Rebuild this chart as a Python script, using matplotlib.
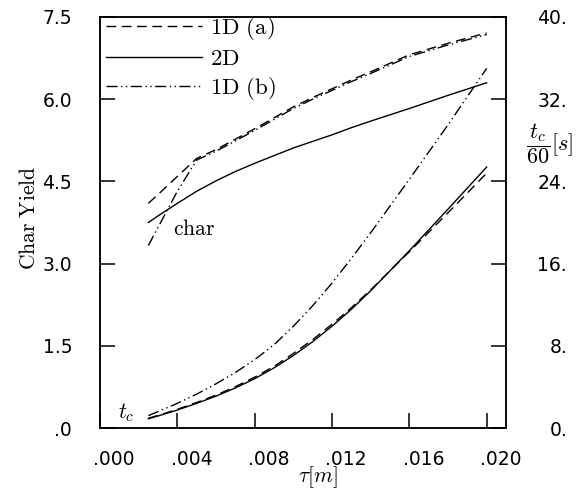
import matplotlib
matplotlib.use('Agg')
import matplotlib.pyplot as plt
import matplotlib.transforms as mtransforms

# tau [m] grid
tau = [0.0025, 0.003, 0.004, 0.005, 0.006, 0.007, 0.008, 0.009, 0.010,
       0.011, 0.012, 0.013, 0.014, 0.016, 0.018, 0.020]

# char yield (left axis)
char_1da = [4.10, 4.26, 4.59, 4.92, 5.08, 5.27, 5.46, 5.66, 5.86, 6.03, 6.19, 6.35, 6.50, 6.81, 7.02, 7.21]
char_2d = [3.75, 3.87, 4.10, 4.32, 4.51, 4.68, 4.83, 4.97, 5.11, 5.23, 5.35, 5.48, 5.60, 5.83, 6.07, 6.30]
char_1db = [3.33, 3.66, 4.32, 4.89, 5.05, 5.24, 5.43, 5.63, 5.83, 6.00, 6.16, 6.32, 6.47, 6.78, 6.99, 7.18]

# t_c / 60 [s] (right axis)
tc_1da = [0.95, 1.22, 1.82, 2.48, 3.2, 4.02, 4.95, 6.0, 7.25, 8.6, 10.1, 11.7, 13.45, 17.15, 20.95, 24.8]
tc_2d = [0.9, 1.17, 1.75, 2.4, 3.1, 3.9, 4.8, 5.85, 7.05, 8.4, 9.9, 11.55, 13.35, 17.25, 21.3, 25.4]
tc_1db = [1.2, 1.6, 2.4, 3.3, 4.3, 5.4, 6.65, 8.1, 9.9, 11.9, 14.1, 16.5, 19.0, 24.2, 29.5, 35.0]

xticks = [0.0, 0.004, 0.008, 0.012, 0.016, 0.020]
xticklabels = ['.000', '.004', '.008', '.012', '.016', '.020']
yticks = [0.0, 1.5, 3.0, 4.5, 6.0, 7.5]
yticklabels = ['.0', '1.5', '3.0', '4.5', '6.0', '7.5']
y2ticks = [0, 8, 16, 24, 32, 40]
y2ticklabels = ['0.', '8.', '16.', '24.', '32.', '40.']

plt.rcParams['mathtext.fontset'] = 'cm'
plt.rcParams['font.family'] = 'DejaVu Sans'

W, H = 582, 496
fig = plt.figure(figsize=(W / 100, H / 100), dpi=100)
ax = fig.add_axes([100 / W, 1 - 428 / H, 406 / W, 411 / H])
ax2 = ax.twinx()

ls_a = (0, (7, 4))
ls_b = (0, (8, 2.5, 1, 2.5, 1, 2.5))
lw = 1.0

ax.plot(tau, char_1da, color='black', lw=lw, linestyle=ls_a, label=r'$\mathrm{1D\ (a)}$')
ax.plot(tau, char_2d, color='black', lw=lw, linestyle='-', label=r'$\mathrm{2D}$')
ax.plot(tau, char_1db, color='black', lw=lw, linestyle=ls_b, label=r'$\mathrm{1D\ (b)}$')

ax2.plot(tau, tc_1da, color='black', lw=lw, linestyle=ls_a)
ax2.plot(tau, tc_2d, color='black', lw=lw, linestyle='-')
ax2.plot(tau, tc_1db, color='black', lw=lw, linestyle=ls_b)

ax.set_xlim(0, 0.021)
ax.set_ylim(0, 7.5)
ax2.set_ylim(0, 40)

ax.set_xticks(xticks)
ax.set_xticklabels(xticklabels)
ax.set_yticks(yticks)
ax.set_yticklabels(yticklabels)
ax2.set_yticks(y2ticks)
ax2.set_yticklabels(y2ticklabels)

ax.tick_params(axis='x', direction='in', length=11, width=1.1, pad=16, labelsize=13.5)
ax.tick_params(axis='y', direction='in', length=11, width=1.1, pad=20, labelsize=13.5)
ax2.tick_params(axis='y', direction='in', length=11, width=1.1, pad=44, labelsize=13.5)
for lbl in ax2.get_yticklabels():
    lbl.set_horizontalalignment('right')
shift = mtransforms.ScaledTranslation(14 / 100, 0, fig.dpi_scale_trans)
for lbl in ax.get_xticklabels():
    lbl.set_transform(lbl.get_transform() + shift)

for a in (ax, ax2):
    for s in a.spines.values():
        s.set_linewidth(1.1)

leg = ax.legend(loc='upper left', bbox_to_anchor=(6 / 406, 1 + 2 / 411), frameon=False,
                fontsize=16.5, handlelength=4.2, handletextpad=0.35, labelspacing=0.22,
                borderaxespad=0.0, borderpad=0.0)

ax.text(0.0038, 3.52, r'$\mathrm{char}$', fontsize=15.5, ha='left', va='baseline')
ax.text(0.00095, 0.18, r'$t_c$', fontsize=15.5, ha='left', va='baseline')

fig.text(29 / W, 1 - 218 / H, r'$\mathrm{Char\ Yield}$', fontsize=15.5, rotation=90,
         ha='center', va='center')
fig.text(318 / W, 1 - 477 / H, r'$\tau[m]$', fontsize=15.5, ha='center', va='center')
fig.text(550 / W, 1 - 144 / H, r'$\dfrac{t_c}{60}[s]$', fontsize=16, ha='center', va='center')

fig.savefig('out.png', dpi=100)
